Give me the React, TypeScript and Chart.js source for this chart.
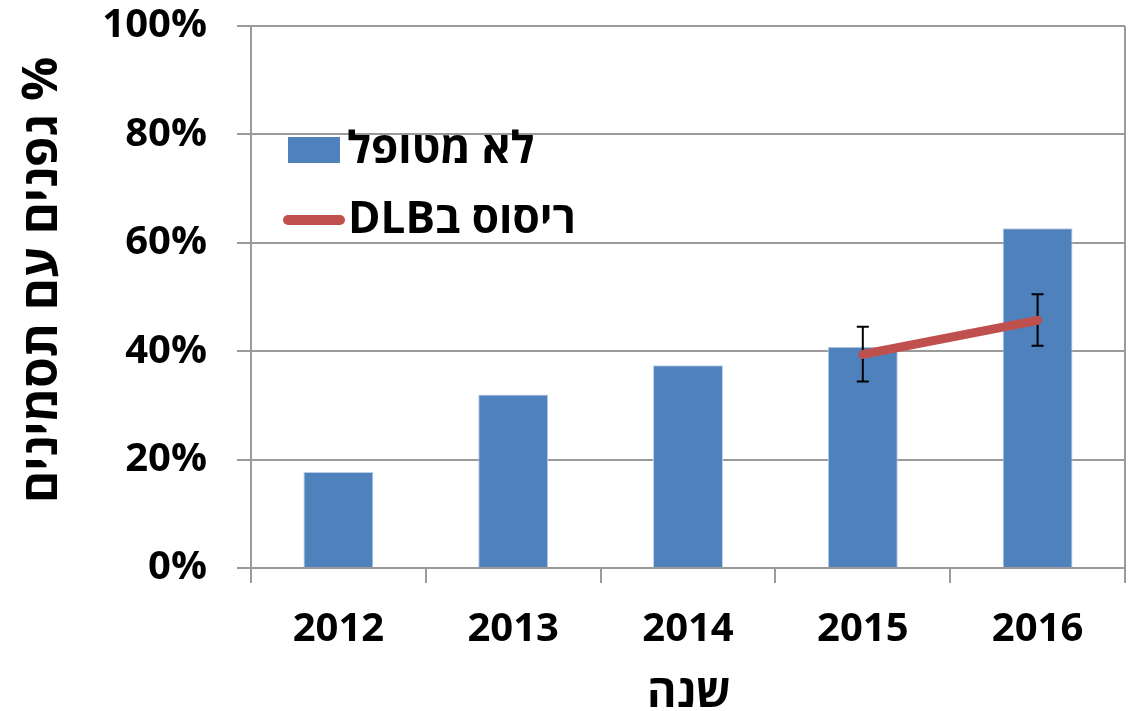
import React, { useEffect, useRef } from "react";
import { Chart, registerables } from "chart.js";

Chart.register(...registerables);

// Years on the x axis
const years = ["2012", "2013", "2014", "2015", "2016"];
// Share of vines with symptoms, untreated (%)
const untreated = [17.7, 32.0, 37.4, 40.8, 62.7];
// Share of vines with symptoms, sprayed with DLB (%)
const sprayed = [null, null, null, 39.4, 45.7];
// Error bar bounds for the sprayed series (%)
const sprayedUpper = [null, null, null, 44.5, 50.5];
const sprayedLower = [null, null, null, 34.4, 41.0];
// Y axis ticks
const yTicks = [0, 20, 40, 60, 80, 100];

const untreatedLabel = "לא מטופל";
const sprayedLabel = "ריסוס בDLB";
const xTitle = "שנה";
const yTitle = "% גפנים עם תסמינים";

const BLUE = "#4f81bd";
const RED = "#c0504d";
const GRID = "#9a9a9a";
const FONT = "'Open Sans', 'DejaVu Sans', sans-serif";

const extrasPlugin = {
  id: "extras",
  afterDatasetDraw(chart: any, args: any) {
    if (args.index !== 0) return;
    // error bars, drawn under the red line
    const ctx = chart.ctx;
    const x = chart.scales.x;
    const y = chart.scales.y;
    ctx.save();
    ctx.strokeStyle = "#000";
    ctx.lineWidth = 2;
    for (let i = 0; i < years.length; i++) {
      const hi = sprayedUpper[i];
      const lo = sprayedLower[i];
      if (hi == null || lo == null) continue;
      const px = x.getPixelForValue(i);
      const yHi = y.getPixelForValue(hi);
      const yLo = y.getPixelForValue(lo);
      ctx.beginPath();
      ctx.moveTo(px, yHi);
      ctx.lineTo(px, yLo);
      ctx.moveTo(px - 6, yHi);
      ctx.lineTo(px + 6, yHi);
      ctx.moveTo(px - 6, yLo);
      ctx.lineTo(px + 6, yLo);
      ctx.stroke();
    }
    ctx.restore();
  },
  afterDraw(chart: any) {
    const ctx = chart.ctx;
    const area = chart.chartArea;
    ctx.save();
    // right border of the plot
    ctx.strokeStyle = GRID;
    ctx.lineWidth = 2;
    ctx.beginPath();
    ctx.moveTo(area.right, area.top);
    ctx.lineTo(area.right, area.bottom + 15);
    ctx.stroke();

    // legend inside the plot
    ctx.fillStyle = BLUE;
    ctx.fillRect(288, 137, 52, 26);
    ctx.strokeStyle = RED;
    ctx.lineWidth = 10;
    ctx.lineCap = "round";
    ctx.beginPath();
    ctx.moveTo(288, 220);
    ctx.lineTo(340, 220);
    ctx.stroke();

    ctx.fillStyle = "#000";
    ctx.font = `bold 44px ${FONT}`;
    ctx.direction = "rtl";
    ctx.textAlign = "left";
    ctx.textBaseline = "alphabetic";
    ctx.fillText(untreatedLabel, 347, 163);
    ctx.fillText(sprayedLabel, 348, 233);

    // axis titles
    ctx.font = `bold 45px ${FONT}`;
    ctx.textAlign = "center";
    ctx.fillText(xTitle, 689, 707);

    ctx.font = `bold 49px ${FONT}`;
    ctx.translate(57, 280);
    ctx.rotate(-Math.PI / 2);
    ctx.fillText(yTitle, 0, 0);
    ctx.restore();
  },
};

export default function App() {
  const ref = useRef<HTMLCanvasElement | null>(null);

  useEffect(() => {
    if (!ref.current) return;
    const chart = new Chart(ref.current, {
      type: "bar",
      data: {
        labels: years,
        datasets: [
          {
            type: "bar",
            label: untreatedLabel,
            data: untreated,
            backgroundColor: BLUE,
            borderColor: "#b9cde5",
            borderWidth: 1,
            barPercentage: 0.4,
            categoryPercentage: 1,
            order: 1,
          },
          {
            type: "line",
            label: sprayedLabel,
            data: sprayed as any,
            borderColor: RED,
            borderWidth: 9,
            borderCapStyle: "round",
            pointRadius: 0,
            fill: false,
            order: 0,
          },
        ],
      },
      options: {
        responsive: false,
        animation: false,
        devicePixelRatio: 1,
        layout: { padding: { top: 26, right: 5, left: 0, bottom: 0 } },
        plugins: {
          legend: { display: false },
          tooltip: { enabled: false },
        },
        scales: {
          x: {
            offset: true,
            grid: {
              offset: true,
              drawOnChartArea: false,
              drawTicks: true,
              tickLength: 15,
              color: GRID,
              lineWidth: 2,
            },
            border: { color: GRID, width: 2 },
            ticks: {
              color: "#000",
              font: { family: FONT, size: 40, weight: "bold" },
              padding: 23,
              maxRotation: 0,
            },
            afterFit(scale: any) {
              scale.height = 143;
              scale.paddingLeft = 0;
              scale.paddingRight = 0;
            },
          },
          y: {
            min: 0,
            max: 100,
            afterBuildTicks(scale: any) {
              scale.ticks = yTicks.map((v) => ({ value: v }));
            },
            grid: {
              color: GRID,
              lineWidth: 2,
              tickLength: 14,
            },
            border: { color: GRID, width: 2 },
            ticks: {
              color: "#000",
              font: { family: FONT, size: 40, weight: "bold" },
              padding: 30,
              callback: (v: any) => `${v}%`,
            },
            afterFit(scale: any) {
              scale.width = 251;
              scale.paddingTop = 0;
              scale.paddingBottom = 0;
            },
          },
        },
      },
      plugins: [extrasPlugin],
    });
    return () => chart.destroy();
  }, []);

  return (
    <div
      style={{
        position: "fixed",
        left: 0,
        top: 0,
        width: 1130,
        height: 711,
        background: "#fff",
      }}
    >
      <canvas ref={ref} width={1130} height={711} style={{ width: 1130, height: 711 }} />
    </div>
  );
}
